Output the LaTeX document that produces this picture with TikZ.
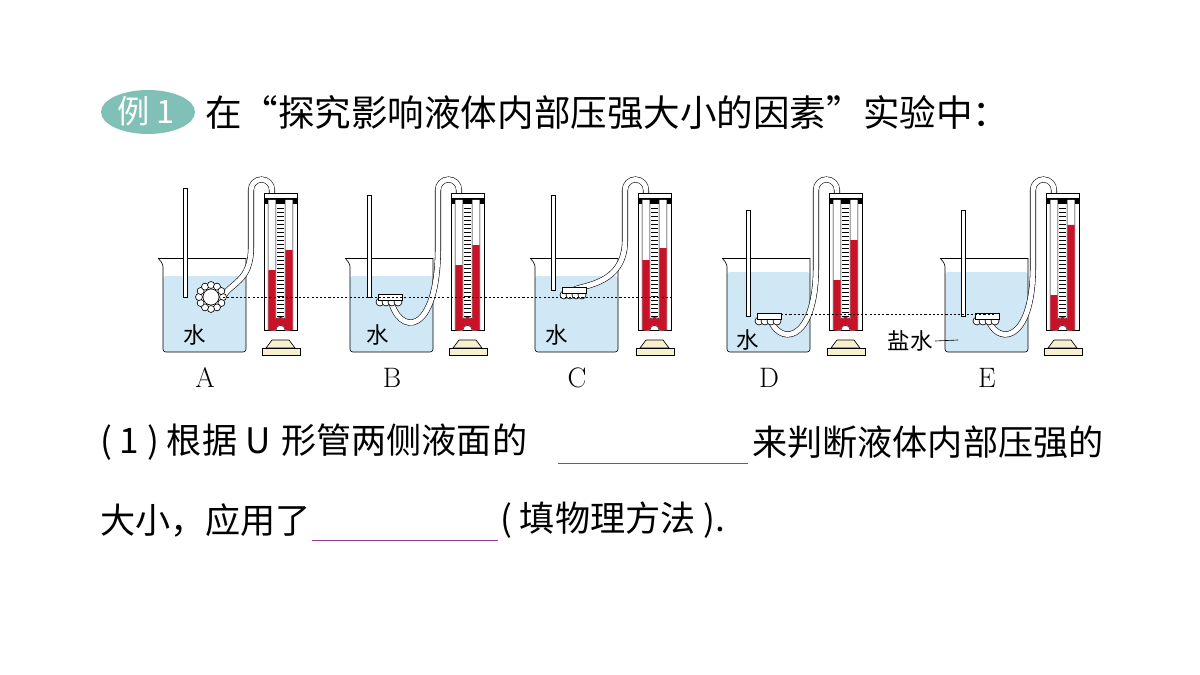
\documentclass[tikz,border=0pt]{standalone}
\usepackage{fontspec}
\newfontfamily\cjk{Noto Sans CJK SC}
\definecolor{water}{RGB}{208,232,246}
\definecolor{liquid}{RGB}{200,18,40}
\definecolor{badge}{RGB}{128,192,182}
\definecolor{stand}{RGB}{246,240,206}
\definecolor{blank}{RGB}{150,60,150}
\tikzset{
  glass/.style={draw=black, line width=0.9pt},
  hose/.style={double=white, draw=black, double distance=7pt, line width=0.8pt},
  para/.style={font=\cjk\fontsize{50}{54}\selectfont, anchor=west, inner sep=0pt},
  lab/.style={font=\fontsize{40}{42}\selectfont},
}
\begin{document}
\begin{tikzpicture}[x=0.05cm, y=-0.05cm]
\useasboundingbox (0,0) rectangle (1200,675);
% heading
\fill [badge] (148,112) ellipse (47 and 22);
\node [font=\cjk\fontsize{46}{46}\selectfont, text=white] (ex) at (146,111) {例 1};
\node [para, font=\cjk\fontsize{52}{54}\selectfont] (title) at (205,113) {在“探究影响液体内部压强大小的因素”实验中：};
% apparatus: beaker x / rod x / rod top / probe x / probe y / U x / left level / right level / hose dip / water top / letter
\foreach \bx/\rx/\rt/\px/\py/\ux/\hl/\hr/\dip/\wt/\lab in {
  163/183/188/211/297/263/270/250/-15/276/A,
  350/367/195/378/297/450/265/245/40/276/B,
  535/551/195/562/290/637/260/248/-5/276/C,
  727/746/210/757/316/828/280/240/30/272/D,
  945/961/210/975/316/1045/295/225/30/272/E}{
  % beaker
  \fill [water, rounded corners=4] (\bx,\wt) rectangle (\bx+83,352);
  \draw [glass, rounded corners=4] (\bx-5,258) -- (\bx,264) -- (\bx,352) -- (\bx+83,352) -- (\bx+83,258);
  \draw [glass] (\bx-5,258) -- (\bx+83,258);
  % rod
  \draw [glass, fill=white] (\rx,\rt) rectangle (\rx+4,\py);
  % hose
  \draw [hose] (\px+12,\py) .. controls (\px+20,\py+\dip) and (\ux-12,\py+\dip) .. (\ux-12,\py-50)
     -- (\ux-12,190) arc (180:360:10.5) -- (\ux+9,200);
  % U-tube board
  \draw [glass, fill=white] (\ux+1,193) rectangle (\ux+34,330);
  \fill (\ux+1,198) rectangle (\ux+34,204);
  \foreach \t in {208,212,...,326} \draw [line width=0.5pt] (\ux+14,\t) -- (\ux+21,\t);
  \draw [line width=12pt, black] (\ux+9,200) -- (\ux+9,330) arc (180:360:8.5) -- (\ux+26,200);
  \draw [line width=10pt, white] (\ux+9,200) -- (\ux+9,330) arc (180:360:8.5) -- (\ux+26,200);
  \draw [line width=10pt, liquid] (\ux+9,\hl) -- (\ux+9,330) arc (180:360:8.5) -- (\ux+26,\hr);
  % stand
  \draw [glass, fill=stand] (\ux+9,340) -- (\ux+26,340) -- (\ux+32,348) -- (\ux+3,348) -- cycle;
  \draw [glass, fill=stand] (\ux-1,348) rectangle (\ux+37,355);
  \node [lab] (l\lab) at (\bx+42,378) {\lab};
}
% probes
\draw [glass, fill=white] (211,297) circle (12);
\foreach \a in {0,30,...,330} \draw [glass, fill=white] ([shift={(\a:12)}]211,297) circle (3.5);
\draw [glass, fill=white] (211,297) circle (8);
\foreach \x/\y in {378/297,562/290,757/316,975/316}{
  \foreach \d in {2,8,14,20} \draw [glass, fill=white] (\x+\d,\y+5) circle (4);
  \draw [glass, fill=white] (\x,\y-3) rectangle (\x+24,\y+3);
}
% level lines
\draw [dashed, line width=0.6pt] (223,297) -- (672,297);
\draw [dashed, line width=0.6pt] (781,314) -- (995,314);
% liquid names
\foreach \x/\y/\n in {195/335/wa,378/335/wb,557/335/wc,748/340/wd}
  \node [font=\cjk\fontsize{32}{32}\selectfont] (\n) at (\x,\y) {水};
\node [font=\cjk\fontsize{32}{32}\selectfont] (brine) at (910,341) {盐水};
\coordinate (bp) at (958,340);
\draw [glass] (brine.east) -- (bp);
% question
\node [para] (q1) at (100,442) {( 1 ) 根据 U \hspace{4pt}形管两侧液面的};
\draw [blank, line width=1pt] (558,463) -- (748,463);
\node [para] (q1b) at (752,442) {来判断液体内部压强的};
\node [para] (q2) at (100,520) {大小，应用了};
\draw [blank, line width=1pt] (312,540) -- (498,540);
\node [para] (q2b) at (500,520) {( 填物理方法 ).};
\end{tikzpicture}
\end{document}
